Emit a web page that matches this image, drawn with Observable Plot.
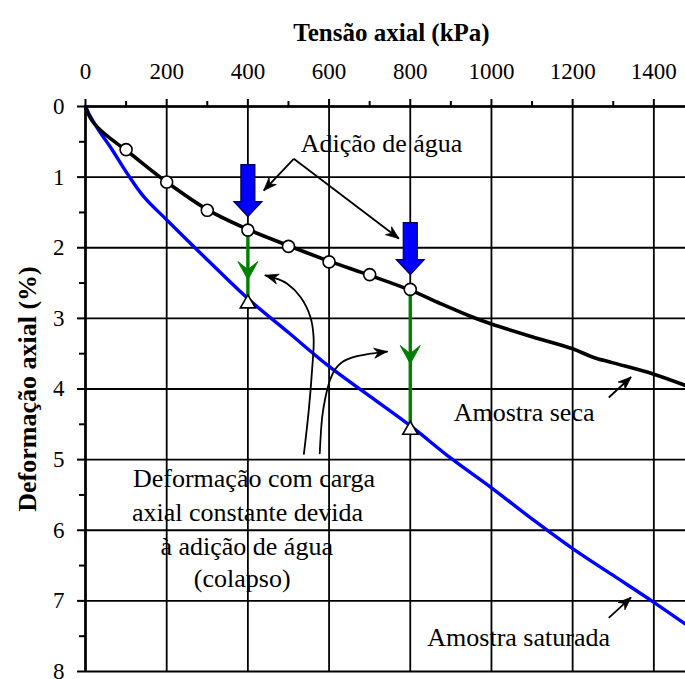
<!DOCTYPE html>
<html>
<head>
<meta charset="utf-8">
<script src="https://cdn.jsdelivr.net/npm/d3@7"></script>
<script src="https://cdn.jsdelivr.net/npm/@observablehq/plot@0.6"></script>
<style>
html, body { margin: 0; padding: 0; background: #fff; overflow: hidden; }
#chart svg, #chart svg text { font-family: 'Liberation Serif', 'Times New Roman', Times, serif !important; }
</style>
</head>
<body>
<div id="chart"></div>
<script>
// ---- Axes / ticks ----
const xMajorTicks = [0, 200, 400, 600, 800, 1000, 1200, 1400];
const xMinorTicks = [100, 300, 500, 700, 900, 1100, 1300];
const yMajorTicks = [0, 1, 2, 3, 4, 5, 6, 7, 8];
const yMinorTicks = [0.5, 1.5, 2.5, 3.5, 4.5, 5.5, 6.5, 7.5];
const xTitle = "Tensão axial (kPa)";
const yTitle = "Deformação axial (%)";

// ---- Dry sample curve (Amostra seca) ----
const dryX = [0, 8, 20, 40, 65, 100, 200, 300, 400, 500, 600, 700, 800, 874, 948, 1000, 1100, 1200, 1250, 1300, 1400, 1478];
const dryY = [0, 0.12, 0.23, 0.35, 0.47, 0.62, 1.07, 1.46, 1.74, 1.97, 2.19, 2.39, 2.6, 2.79, 2.97, 3.08, 3.26, 3.43, 3.55, 3.63, 3.79, 3.95];

// ---- Saturated sample curve (Amostra saturada) ----
const satX = [0, 8, 20, 40, 62, 103, 144, 201, 300, 400, 500, 600, 700, 800, 900, 1000, 1100, 1200, 1300, 1400, 1478];
const satY = [0, 0.1, 0.22, 0.4, 0.58, 0.95, 1.28, 1.61, 2.17, 2.72, 3.2, 3.68, 4.1, 4.52, 4.98, 5.4, 5.84, 6.26, 6.64, 7.02, 7.33];

// ---- Measured points (circles) on the dry curve ----
const circleX = [100, 200, 300, 400, 500, 600, 700, 800];
const circleY = [0.61, 1.07, 1.47, 1.75, 1.98, 2.2, 2.38, 2.59];

// ---- Collapse (water added at constant load) ----
const collapseX = [400, 800];
const collapseTop = [1.75, 2.59];
const collapseBottom = [2.72, 4.5];
const triangleY = [2.79, 4.58];
const greenHeadTipY = [2.45, 3.64];
const waterArrowTipY = [1.56, 2.38];

// ---- Annotation texts ----
const noteText = ["Adição de água", "Amostra seca", "Amostra saturada"];
const noteX = [530, 907, 842];
const noteY = [0.526, 4.33, 7.52];

const collapseLines = ["Deformação com carga", "axial constante devida", "à adição de água", "(colapso)"];
const collapseLineX = [415, 399, 397, 386];
const collapseLineY = [5.27, 5.75, 6.23, 6.69];

// ---- Straight annotation arrows ----
const noteArrowX1 = [513, 513, 1289, 1289];
const noteArrowY1 = [0.74, 0.74, 4.12, 7.24];
const noteArrowX2 = [439, 772, 1344, 1344];
const noteArrowY2 = [1.19, 1.87, 3.83, 6.95];

// ---- Curved annotation arrows ----
const leftCurveX = [538, 550, 558, 562, 554, 530, 497, 472, 443];
const leftCurveY = [4.92, 4.3, 3.74, 3.28, 2.98, 2.7, 2.51, 2.44, 2.39];
const rightCurveX = [577, 583, 591, 602, 615, 632, 660, 702, 743];
const rightCurveY = [4.91, 4.4, 4.12, 3.88, 3.72, 3.62, 3.55, 3.5, 3.47];

// ---- Scales (shared with the plot) ----
const xDomain = [0, 1478], xRange = [85, 685];
const yDomain = [0, 8], yRange = [106, 671];
const sx = d3.scaleLinear(xDomain, xRange);
const sy = d3.scaleLinear(yDomain, yRange);

// ---- Build tables ----
const dry = dryX.map((x, i) => ({x, y: dryY[i]}));
const sat = satX.map((x, i) => ({x, y: satY[i]}));
const circles = circleX.map((x, i) => ({x, y: circleY[i]}));
const collapse = collapseX.map((x, i) => ({x, y1: collapseTop[i], y2: collapseBottom[i], tri: triangleY[i], head: greenHeadTipY[i], water: waterArrowTipY[i]}));
const notes = noteText.map((t, i) => ({t, x: noteX[i], y: noteY[i]}));
const collapseNote = collapseLines.map((t, i) => ({t, x: collapseLineX[i], y: collapseLineY[i]}));
const noteArrows = noteArrowX1.map((x1, i) => ({x1, y1: noteArrowY1[i], x2: noteArrowX2[i], y2: noteArrowY2[i]}));
const curves = [
  ...leftCurveX.map((x, i) => ({id: "L", x, y: leftCurveY[i]})),
  ...rightCurveX.map((x, i) => ({id: "R", x, y: rightCurveY[i]}))
];
const curveHeads = [
  {x1: leftCurveX[leftCurveX.length - 2], y1: leftCurveY[leftCurveY.length - 2], x2: leftCurveX[leftCurveX.length - 1], y2: leftCurveY[leftCurveY.length - 1]},
  {x1: rightCurveX[rightCurveX.length - 2], y1: rightCurveY[rightCurveY.length - 2], x2: rightCurveX[rightCurveX.length - 1], y2: rightCurveY[rightCurveY.length - 1]}
];
const allHeads = [...noteArrows, ...curveHeads].map(h => ({...h, angle: Math.atan2(sy(h.y2) - sy(h.y1), sx(h.x2) - sx(h.x1))}));

// ---- Custom symbols (pixel shapes, tip at origin) ----
const blockArrowDown = {
  draw(ctx) {
    ctx.moveTo(-7, -52); ctx.lineTo(7, -52); ctx.lineTo(7, -15); ctx.lineTo(14, -15);
    ctx.lineTo(0, 0); ctx.lineTo(-14, -15); ctx.lineTo(-7, -15); ctx.closePath();
  }
};
const sweptHeadDown = {
  draw(ctx) {
    ctx.moveTo(0, 0); ctx.lineTo(-10, -18); ctx.lineTo(0, -10); ctx.lineTo(10, -18); ctx.closePath();
  }
};
function stealthHead(angle) {
  const c = Math.cos(angle), s = Math.sin(angle);
  const pts = [[0, 0], [-13, -5], [-9, 0], [-13, 5]].map(([px, py]) => [px * c - py * s, px * s + py * c]);
  return {
    draw(ctx) {
      ctx.moveTo(pts[0][0], pts[0][1]);
      for (let i = 1; i < pts.length; i++) ctx.lineTo(pts[i][0], pts[i][1]);
      ctx.closePath();
    }
  };
}

const serif = "'Liberation Serif', 'Times New Roman', Times, serif";

const chart = Plot.plot({
  width: 685,
  height: 679,
  marginTop: 106,
  marginLeft: 85,
  marginRight: 0,
  marginBottom: 8,
  style: {fontFamily: serif, fontSize: "23px", color: "black", background: "white"},
  x: {domain: xDomain, range: xRange},
  y: {domain: yDomain, range: yRange},
  marks: [
    // grid
    Plot.ruleX(xMajorTicks, {stroke: "black", strokeWidth: 1.8}),
    Plot.ruleY(yMajorTicks, {stroke: "black", strokeWidth: 1.8}),
    Plot.ruleX([0], {stroke: "black", strokeWidth: 2.6}),
    Plot.ruleY([0], {stroke: "black", strokeWidth: 2.6}),
    // axes
    Plot.axisX({anchor: "top", ticks: xMajorTicks, tickSize: 8, tickPadding: 20, strokeWidth: 2, label: null, tickFormat: d => String(d), fontFamily: serif, fontSize: 23}),
    Plot.axisX({anchor: "top", ticks: xMinorTicks, tickSize: 6, tickPadding: 0, strokeWidth: 2, label: null, tickFormat: () => ""}),
    Plot.axisY({anchor: "left", ticks: yMajorTicks, tickSize: 8, tickPadding: 13, strokeWidth: 2, label: null, tickFormat: d => String(d), fontFamily: serif, fontSize: 23}),
    Plot.axisY({anchor: "left", ticks: yMinorTicks, tickSize: 6, tickPadding: 0, strokeWidth: 2, label: null, tickFormat: () => ""}),
    // titles
    Plot.text([xTitle], {text: d => d, frameAnchor: "top", textAnchor: "middle", dx: 6, dy: -83, fontSize: 25, fontWeight: "bold", fontFamily: serif}),
    Plot.text([yTitle], {text: d => d, frameAnchor: "left", textAnchor: "middle", dx: -58, rotate: -90, fontSize: 26, fontWeight: "bold", fontFamily: serif}),
    // curves
    Plot.line(sat, {x: "x", y: "y", stroke: "#0000ff", strokeWidth: 3.4, curve: "catmull-rom"}),
    Plot.line(dry, {x: "x", y: "y", stroke: "black", strokeWidth: 3.6, curve: "catmull-rom"}),
    // collapse segments
    Plot.ruleX(collapse, {x: "x", y1: "y1", y2: "y2", stroke: "#008000", strokeWidth: 3.4}),
    Plot.dot(collapse, {x: "x", y: "head", symbol: sweptHeadDown, fill: "#008000", stroke: "#008000", strokeWidth: 1}),
    // water-addition block arrows
    Plot.dot(collapse, {x: "x", y: "water", symbol: blockArrowDown, fill: "#0000ff", stroke: "#000050", strokeWidth: 1.2}),
    // markers
    Plot.dot(circles, {x: "x", y: "y", r: 6, fill: "white", stroke: "black", strokeWidth: 1.6}),
    Plot.dot(collapse, {x: "x", y: "tri", symbol: "triangle", r: 5.6, fill: "white", stroke: "black", strokeWidth: 1.6}),
    // annotation arrows (shafts + filled heads)
    Plot.link(noteArrows, {x1: "x1", y1: "y1", x2: "x2", y2: "y2", stroke: "black", strokeWidth: 1.8}),
    Plot.line(curves, {x: "x", y: "y", z: "id", stroke: "black", strokeWidth: 1.8, curve: "catmull-rom"}),
    ...allHeads.map(h => Plot.dot([h], {x: "x2", y: "y2", symbol: stealthHead(h.angle), fill: "black", stroke: "black", strokeWidth: 0.8})),
    // annotation text
    Plot.text(notes, {x: "x", y: "y", text: "t", textAnchor: "start", fontSize: 26, fontFamily: serif, fill: "black"}),
    Plot.text(collapseNote, {x: "x", y: "y", text: "t", textAnchor: "middle", fontSize: 26, fontFamily: serif, fill: "black"})
  ]
});
document.getElementById("chart").appendChild(chart);
</script>
</body>
</html>
